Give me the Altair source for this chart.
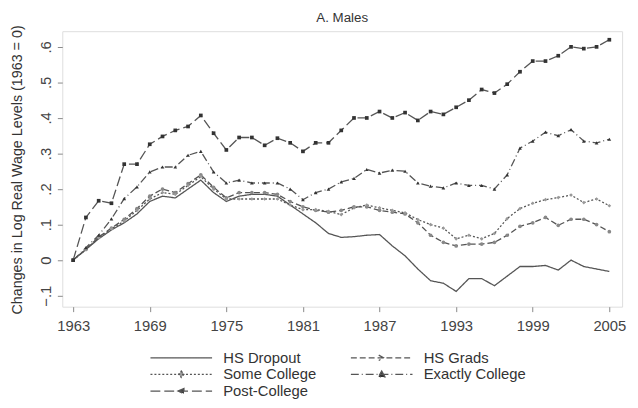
import altair as alt
import pandas as pd

years = list(range(1963, 2006))

hs_dropout = [0, 0.03, 0.06, 0.085, 0.105, 0.13, 0.165, 0.18, 0.175, 0.2, 0.225,
              0.19, 0.165, 0.18, 0.185, 0.185, 0.18, 0.155, 0.13, 0.105, 0.075,
              0.064, 0.066, 0.07, 0.072, 0.04, 0.012, -0.025, -0.058, -0.065, -0.088,
              -0.052, -0.052, -0.072, -0.045, -0.018, -0.018, -0.015, -0.028, 0.0,
              -0.018, -0.025, -0.032]
hs_grads = [0, 0.03, 0.065, 0.09, 0.115, 0.145, 0.18, 0.2, 0.19, 0.215, 0.24,
            0.205, 0.175, 0.19, 0.19, 0.19, 0.185, 0.165, 0.15, 0.14, 0.135,
            0.14, 0.15, 0.15, 0.14, 0.135, 0.13, 0.105, 0.07, 0.05, 0.04,
            0.045, 0.045, 0.05, 0.07, 0.095, 0.105, 0.12, 0.098, 0.115,
            0.115, 0.1, 0.08]
some_college = [0, 0.03, 0.063, 0.088, 0.11, 0.14, 0.172, 0.19, 0.185, 0.21, 0.235,
                0.2, 0.172, 0.172, 0.172, 0.172, 0.172, 0.155, 0.142, 0.142, 0.137,
                0.128, 0.147, 0.155, 0.147, 0.14, 0.133, 0.114, 0.1, 0.09, 0.06,
                0.07, 0.06, 0.075, 0.117, 0.145, 0.16, 0.17, 0.176, 0.183,
                0.162, 0.172, 0.153]
exactly_college = [0, 0.035, 0.07, 0.116, 0.173, 0.206, 0.248, 0.262, 0.262, 0.295, 0.306,
                   0.248, 0.217, 0.225, 0.217, 0.217, 0.217, 0.2, 0.17, 0.19, 0.2,
                   0.22, 0.23, 0.255, 0.245, 0.253, 0.25, 0.217, 0.208, 0.203, 0.217,
                   0.21, 0.21, 0.2, 0.24, 0.315, 0.335, 0.36, 0.35, 0.367,
                   0.335, 0.33, 0.34]
post_college = [0, 0.12, 0.167, 0.16, 0.27, 0.27, 0.326, 0.348, 0.365, 0.376, 0.407,
                0.357, 0.31, 0.345, 0.345, 0.323, 0.343, 0.33, 0.306, 0.33, 0.33,
                0.365, 0.40, 0.40, 0.418, 0.40, 0.415, 0.393, 0.418, 0.41, 0.43,
                0.45, 0.48, 0.47, 0.495, 0.53, 0.56, 0.56, 0.575, 0.60,
                0.595, 0.60, 0.62]

series_names = ["HS Dropout", "HS Grads", "Some College", "Exactly College", "Post-College"]
series_values = [hs_dropout, hs_grads, some_college, exactly_college, post_college]
series_dash = {
    "HS Dropout": [1, 0],
    "HS Grads": [6, 3],
    "Some College": [2, 2],
    "Exactly College": [8, 3, 1, 3],
    "Post-College": [10, 4],
}
# legend fills column by column: this order gives rows
# (HS Dropout, HS Grads), (Some College, Exactly College), (Post-College)
legend_order = ["HS Dropout", "Some College", "Post-College", "HS Grads", "Exactly College"]

x_ticks = [1963, 1969, 1975, 1981, 1987, 1993, 1999, 2005]
y_ticks = [-0.1, 0, 0.1, 0.2, 0.3, 0.4, 0.5, 0.6]

rows = []
for name, vals in zip(series_names, series_values):
    for yr, v in zip(years, vals):
        rows.append({"year": yr, "value": v, "series": name})
df = pd.DataFrame(rows)

FONT = "Liberation Sans"

shape_expr = (
    "datum.value === 'HS Dropout' ? 'M-5.2,0H5.2' : "
    "datum.value === 'HS Grads' ? 'M-5.2,0H5.2M-0.5,-0.45L0.3,0L-0.5,0.45' : "
    "datum.value === 'Some College' ? 'M-5.2,0H5.2M0,-0.55L0.45,0L0,0.55L-0.45,0Z' : "
    "datum.value === 'Exactly College' ? 'M-5.2,0H5.2M0,-0.55L0.55,0.45L-0.55,0.45Z' : "
    "'M-5.2,0H5.2M-0.55,0L0.45,-0.45L0.45,0.45Z'"
)
fill_expr = (
    "datum.value === 'HS Dropout' || datum.value === 'HS Grads' ? 'transparent' : "
    "(datum.value === 'Some College' ? '#999' : '#333')"
)

x_enc = alt.X(
    "year:Q",
    scale=alt.Scale(domain=[1962.15, 2006.0], nice=False, zero=False),
    axis=alt.Axis(values=x_ticks, format="d", title=None, grid=False, domain=False,
                  tickColor="#888", tickSize=5, labelFont=FONT, labelFontSize=15,
                  labelColor="#444", labelPadding=7),
)
y_enc = alt.Y(
    "value:Q",
    scale=alt.Scale(domain=[-0.131, 0.644], nice=False, zero=False),
    axis=alt.Axis(values=y_ticks, grid=False, domain=False, tickColor="#888", tickSize=5,
                  labelExpr="datum.value == 0 ? '0' : replace(format(datum.value, '.1f'), '0.', '.')",
                  labelAngle=270, labelAlign="center", labelBaseline="bottom",
                  labelFont=FONT, labelFontSize=15, labelColor="#444", labelPadding=4,
                  title="Changes in Log Real Wage Levels (1963 = 0)", titleFont=FONT,
                  titleFontSize=14.5, titleFontWeight="normal", titleColor="#333",
                  titleAngle=270, titleAlign="center", titleBaseline="middle",
                  titleX=-45, titleY=140),
)

lines = alt.Chart(df).mark_line(strokeWidth=1.3, color="#555").encode(
    x=x_enc,
    y=y_enc,
    strokeDash=alt.StrokeDash(
        "series:N",
        scale=alt.Scale(domain=legend_order, range=[series_dash[s] for s in legend_order]),
        legend=alt.Legend(
            title=None, orient="none", legendX=89, legendY=323, columns=2,
            padding=0, symbolSize=144, symbolStrokeWidth=1.3, symbolStrokeColor="#555",
            symbolType={"expr": shape_expr}, symbolFillColor={"expr": fill_expr},
            symbolOffset=24, labelOffset=35, columnPadding=31, rowPadding=1,
            labelFont=FONT, labelFontSize=15, labelColor="#333",
        ),
    ),
)

marker_series = ["HS Grads", "Some College", "Exactly College", "Post-College"]
points = alt.Chart(df[df["series"] != "HS Dropout"]).mark_point(
    filled=True, size=14, opacity=1
).encode(
    x=x_enc,
    y=y_enc,
    shape=alt.Shape("series:N", scale=alt.Scale(domain=marker_series,
                    range=["circle", "diamond", "triangle-up", "square"]), legend=None),
    color=alt.Color("series:N", scale=alt.Scale(domain=marker_series,
                    range=["#888", "#999", "#333", "#333"]), legend=None),
)

chart = alt.layer(lines, points).properties(
    width=567,
    height=279,
    autosize="none",
    padding={"left": 55, "top": 21, "right": 8, "bottom": 92},
    title=alt.Title("A. Males", font=FONT, fontSize=13.5, fontWeight="normal",
                    color="#333", offset=0),
).configure_view(stroke="#999", strokeWidth=1.5).configure(background="white")

chart.save("out.html", embed_options={"renderer": "svg", "actions": False})
